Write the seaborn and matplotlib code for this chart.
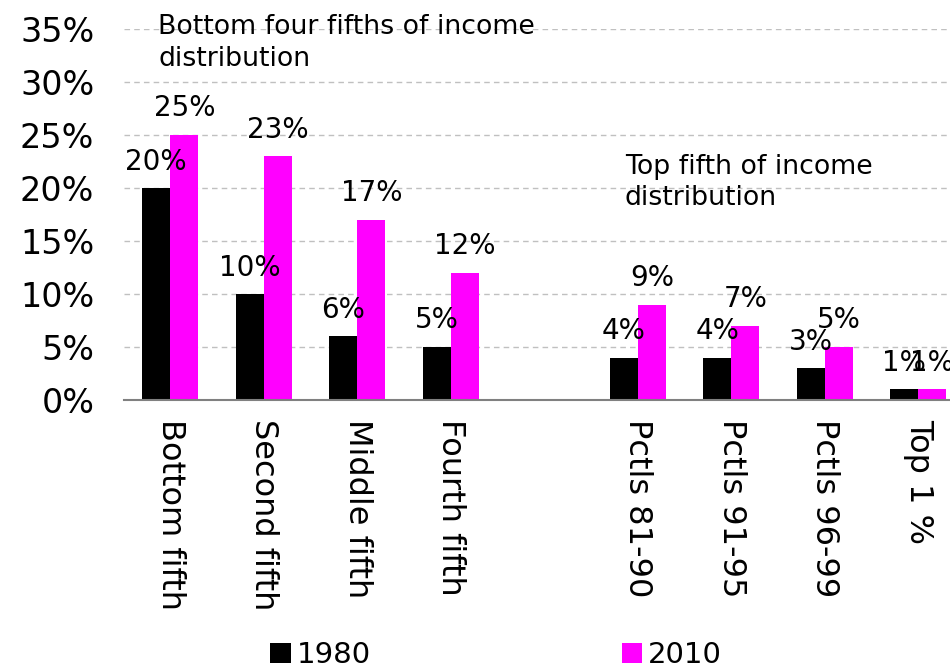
import matplotlib
matplotlib.use("Agg")
import matplotlib.pyplot as plt
import seaborn as sns
import pandas as pd
from matplotlib.ticker import FuncFormatter
from matplotlib.patches import Patch

categories = ["Bottom fifth", "Second fifth", "Middle fifth", "Fourth fifth",
              "Pctls 81-90", "Pctls 91-95", "Pctls 96-99", "Top 1 %"]
order = categories[:4] + [" "] + categories[4:]
values_1980 = [20, 10, 6, 5, 4, 4, 3, 1]
values_2010 = [25, 23, 17, 12, 9, 7, 5, 1]
years = ["1980", "2010"]
colors = {"1980": "#000000", "2010": "#FF00FF"}

df = pd.DataFrame({
    "category": categories * 2,
    "year": ["1980"] * len(categories) + ["2010"] * len(categories),
    "share": values_1980 + values_2010,
})

sns.set_theme(style="white")
plt.rcParams["font.family"] = ["DejaVu Sans"]
plt.rcParams["text.color"] = "black"

fig = plt.figure(figsize=(9.5, 6.68), dpi=100)
ax = fig.add_axes([123.5 / 950, 268 / 668, 841.5 / 950, 371 / 668])

sns.barplot(data=df, x="category", y="share", hue="year", order=order,
            hue_order=years, palette=colors, width=0.6, gap=0, dodge=True,
            saturation=1, linewidth=0, ax=ax, legend=False)

ax.set_xlim(-0.5, len(order) - 0.5)
ax.set_ylim(0, 35)
ax.set_yticks(range(0, 36, 5))
ax.yaxis.set_major_formatter(FuncFormatter(lambda v, p: f"{v:.0f}%"))
ax.grid(axis="y", linestyle=(0, (4, 3)), color="#c0c0c0", linewidth=1)
ax.set_axisbelow(True)
for s in ["top", "right", "left"]:
    ax.spines[s].set_visible(False)
ax.spines["bottom"].set_color("#808080")
ax.spines["bottom"].set_linewidth(1.5)
ax.set_xlabel("")
ax.set_ylabel("")
ax.tick_params(axis="y", length=0, pad=21, labelsize=24, labelcolor="black")
ax.tick_params(axis="x", length=0, pad=14, labelsize=23, labelcolor="black")
for lbl in ax.get_xticklabels():
    lbl.set_rotation(270)
    lbl.set_va("top")
    lbl.set_ha("center")

for cont in ax.containers:
    ax.bar_label(cont, fmt=lambda v: f"{v:.0f}%", padding=9, fontsize=20,
                 color="black")

fig.text(158 / 950, 1 - 14 / 668, "Bottom four fifths of income\ndistribution",
         fontsize=19.3, va="top", ha="left", linespacing=1.3, color="black")
fig.text(625 / 950, 1 - 154 / 668, "Top fifth of income\ndistribution",
         fontsize=19.3, va="top", ha="left", linespacing=1.25, color="black")

handles = [Patch(facecolor=colors[y], edgecolor="none") for y in years]
fig.legend(handles, years, loc="center", bbox_to_anchor=(496 / 950, 13 / 668),
           ncol=2, frameon=False, fontsize=21, handlelength=0.7,
           handleheight=0.7, handletextpad=0.2, columnspacing=8.6,
           borderpad=0, borderaxespad=0)

fig.savefig("out.png", dpi=100)
